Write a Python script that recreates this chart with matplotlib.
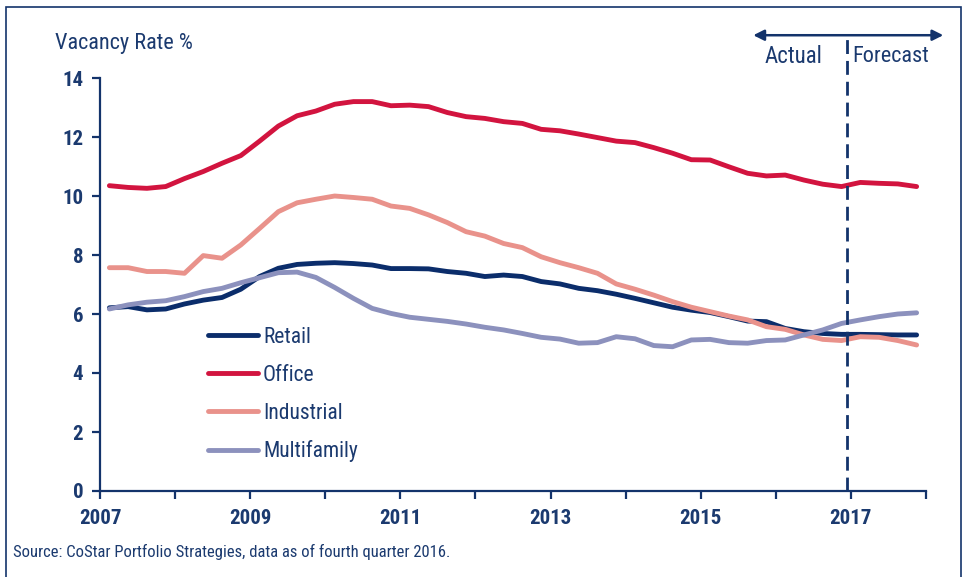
"""Vacancy rate by property type, actual vs forecast."""

import numpy as np
import matplotlib.pyplot as plt
import matplotlib.patches as mpatches
from matplotlib import font_manager

NAVY = "#13336b"
TEXT = "#1b3a6f"

names = ["Retail", "Office", "Industrial", "Multifamily"]
colors = ["#0b2d6b", "#d2143f", "#e9928b", "#8c91bd"]

# quarterly values, 2007 Q1 .. 2017 Q4
retail = [6.21, 6.25, 6.14, 6.17, 6.34, 6.47, 6.56, 6.84, 7.27, 7.55, 7.68,
          7.72, 7.74, 7.71, 7.66, 7.54, 7.54, 7.53, 7.44, 7.38, 7.27, 7.32,
          7.27, 7.10, 7.02, 6.87, 6.79, 6.67, 6.53, 6.38, 6.23, 6.13, 6.05,
          5.91, 5.76, 5.74, 5.51, 5.40, 5.34, 5.31, 5.31, 5.30, 5.29, 5.29]
office = [10.35, 10.29, 10.26, 10.32, 10.59, 10.83, 11.11, 11.37, 11.86,
          12.37, 12.72, 12.88, 13.11, 13.20, 13.20, 13.06, 13.08, 13.03,
          12.83, 12.69, 12.63, 12.52, 12.46, 12.26, 12.21, 12.10, 11.98,
          11.86, 11.81, 11.64, 11.45, 11.23, 11.22, 10.99, 10.77, 10.68,
          10.71, 10.54, 10.40, 10.32, 10.46, 10.43, 10.41, 10.32]
industrial = [7.57, 7.57, 7.44, 7.44, 7.38, 7.98, 7.89, 8.34, 8.90, 9.47,
              9.77, 9.89, 10.00, 9.95, 9.89, 9.66, 9.58, 9.36, 9.10, 8.79,
              8.64, 8.39, 8.25, 7.94, 7.74, 7.57, 7.38, 7.02, 6.84, 6.64,
              6.42, 6.23, 6.08, 5.93, 5.80, 5.57, 5.48, 5.29, 5.14, 5.10,
              5.23, 5.21, 5.10, 4.95]
multifamily = [6.17, 6.31, 6.40, 6.45, 6.59, 6.76, 6.87, 7.06, 7.23, 7.40,
               7.42, 7.24, 6.90, 6.53, 6.19, 6.02, 5.89, 5.82, 5.75, 5.66,
               5.55, 5.46, 5.34, 5.21, 5.15, 5.01, 5.03, 5.23, 5.16, 4.93,
               4.89, 5.12, 5.14, 5.03, 5.01, 5.10, 5.12, 5.29, 5.46, 5.68,
               5.80, 5.91, 6.00, 6.04]

year_ticks = list(range(2007, 2019))
year_labels = [str(y) if (y - 2007) % 2 == 0 and y < 2018 else "" for y in year_ticks]
y_ticks = [0, 2, 4, 6, 8, 10, 12, 14]
forecast_start = 2016.95

# narrowest available sans family
installed = {f.name for f in font_manager.fontManager.ttflist}
family = "Roboto"
for cand in ["Roboto Condensed", "Liberation Sans Narrow", "Open Sans Condensed"]:
    if cand in installed:
        family = cand
        break
plt.rcParams["font.family"] = [family, "DejaVu Sans"]

quarters = 2007.125 + 0.25 * np.arange(len(retail))

fig = plt.figure(figsize=(9.69, 5.77), dpi=100)
ax = fig.add_axes([100 / 969, 86 / 577, 826 / 969, 413 / 577])

for name, series, color in zip(names, [retail, office, industrial, multifamily], colors):
    ax.plot(quarters, series, color=color, linewidth=3.5, label=name,
            solid_capstyle="round", solid_joinstyle="round")

ax.set_xlim(2007, 2018)
ax.set_ylim(0, 14)
ax.set_xticks(year_ticks)
ax.set_xticklabels(year_labels)
ax.set_yticks(y_ticks)

for side in ["top", "right"]:
    ax.spines[side].set_visible(False)
for side in ["left", "bottom"]:
    ax.spines[side].set_color(NAVY)
    ax.spines[side].set_linewidth(1.6)
ax.tick_params(axis="both", direction="out", length=6, width=1.6, color=NAVY,
               labelcolor=TEXT, labelsize=15)
ax.tick_params(axis="x", pad=7)
ax.tick_params(axis="y", pad=6)
for lbl in ax.get_xticklabels() + ax.get_yticklabels():
    lbl.set_fontweight("bold")

# actual / forecast divider
ax.plot([forecast_start, forecast_start], [0, 15.45], color=NAVY, linewidth=2,
        linestyle=(0, (5, 2.5)), clip_on=False)
ax.annotate("", xy=(2015.70, 15.45), xytext=(2018.23, 15.45),
            arrowprops=dict(arrowstyle="<|-|>", color=NAVY, lw=1.8,
                            mutation_scale=16, shrinkA=0, shrinkB=0),
            annotation_clip=False)
ax.text(forecast_start - 0.33, 14.72, "Actual", ha="right", va="center",
        color=TEXT, fontsize=16.5)
ax.text(forecast_start + 0.07, 14.72, "Forecast", ha="left", va="center",
        color=TEXT, fontsize=16)

fig.text(55 / 969, 1 - 43 / 577, "Vacancy Rate %", ha="left", va="center",
         color=TEXT, fontsize=16)

leg = ax.legend(loc="upper left", bbox_to_anchor=(0.12, 0.418), frameon=False,
                fontsize=15.5, handlelength=2.35, handletextpad=0.22,
                labelspacing=0.78, borderaxespad=0)
for t in leg.get_texts():
    t.set_color(TEXT)

fig.text(13 / 969, 1 - 552 / 577,
         "Source: CoStar Portfolio Strategies, data as of fourth quarter 2016.",
         ha="left", va="center", color=TEXT, fontsize=12)

# outer frame
frame = mpatches.Rectangle((6 / 969, -0.05), 955 / 969, 1 - 7 / 577 + 0.05,
                           transform=fig.transFigure, fill=False,
                           edgecolor=NAVY, linewidth=1.2, clip_on=False)
fig.patches.append(frame)

fig.savefig("out.png", dpi=100)
